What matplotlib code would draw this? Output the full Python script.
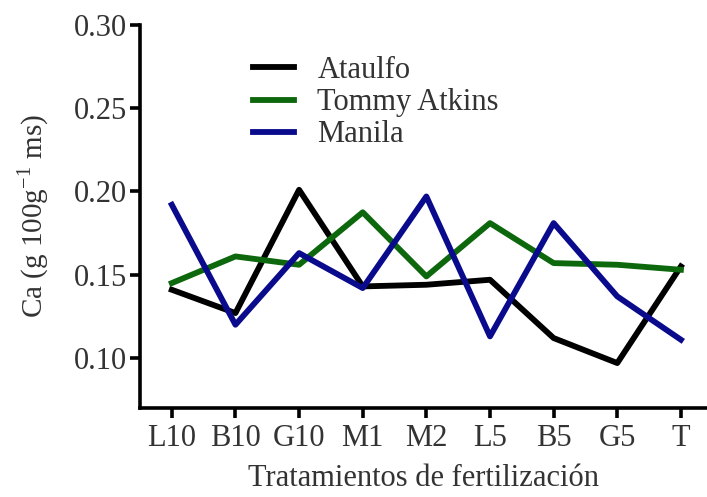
import numpy as np
import matplotlib
matplotlib.use("Agg")
import matplotlib.pyplot as plt

plt.rcParams['font.family'] = ['Liberation Serif', 'DejaVu Serif']
plt.rcParams['mathtext.fontset'] = 'custom'
plt.rcParams['mathtext.rm'] = 'Liberation Serif'

# Ca content per treatment and variety
tratamientos = ['L10', 'B10', 'G10', 'M1', 'M2', 'L5', 'B5', 'G5', 'T']
ataulfo = [0.141, 0.127, 0.201, 0.143, 0.144, 0.147, 0.112, 0.097, 0.155]
tommy = [0.145, 0.161, 0.156, 0.1875, 0.149, 0.181, 0.157, 0.156, 0.153]
manila = [0.192, 0.120, 0.163, 0.142, 0.197, 0.113, 0.181, 0.137, 0.111]

txt = '#333333'
fig = plt.figure(figsize=(7.07, 4.97), dpi=100)
ax = fig.add_axes([0.198, 0.179, 0.802, 0.771])

x = np.arange(len(tratamientos))
ax.plot(x, ataulfo, color='black', lw=4.2, label='Ataulfo')
ax.plot(x, tommy, color='#0d680d', lw=4.2, label='Tommy Atkins')
ax.plot(x, manila, color='#0a0a8c', lw=4.2, label='Manila')

ax.set_xlim(-0.5, 8.41)
ax.set_ylim(0.07, 0.30)
ax.set_yticks([0.10, 0.15, 0.20, 0.25, 0.30])
ax.set_yticklabels(['0.10', '0.15', '0.20', '0.25', '0.30'])
ax.set_xticks(x)
ax.set_xticklabels(tratamientos)

for s in ['top', 'right']:
    ax.spines[s].set_visible(False)
for s in ['left', 'bottom']:
    ax.spines[s].set_linewidth(2.6)
ax.tick_params(axis='both', width=2.6, length=7.5, labelsize=22, labelcolor=txt, pad=2)
ax.tick_params(axis='x', pad=4)

ax.set_ylabel('Ca (g 100g$^{-1}$ ms)', fontsize=21, color=txt, labelpad=16)
ax.set_xlabel('Tratamientos de fertilización', fontsize=22, color=txt, labelpad=8)

ax.legend(loc='upper left', bbox_to_anchor=(0.15, 0.99), frameon=False,
          fontsize=22, handlelength=1.37, handletextpad=0.75, labelspacing=0.1,
          labelcolor=txt)

fig.savefig('out.png', dpi=100)
